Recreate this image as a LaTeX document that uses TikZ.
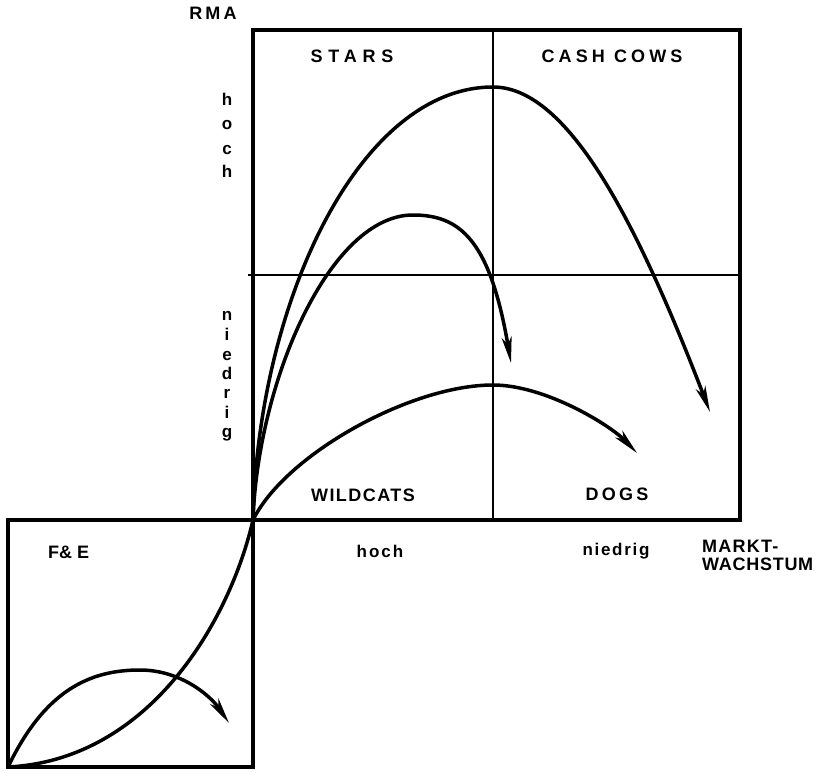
\documentclass[tikz,border=0pt]{standalone}
\usepackage{fontspec}
\setmainfont{Liberation Sans}
\usetikzlibrary{arrows.meta}
\newcommand\caplbl[1]{\fontsize{18}{21}\selectfont\bfseries\addfontfeatures{LetterSpace=#1}}
\newcommand\lowlbl[1]{\fontsize{17}{20}\selectfont\bfseries\addfontfeatures{LetterSpace=#1}}
\tikzset{
  frame/.style={line width=4.5pt},
  gridline/.style={line width=1.6pt},
  curve/.style={line width=3.5pt},
  arr/.style={curve,-{Stealth[length=26pt,width=10pt,inset=7pt]}},
  lbl/.style={inner sep=0pt,anchor=base},
}
\begin{document}
\begin{tikzpicture}[x=1pt,y=-1pt]
\useasboundingbox (0,0) rectangle (822,773);
% grid lines
\coordinate (VT) at (493,30);
\coordinate (VB) at (493,520);
\coordinate (HL) at (248,275);
\coordinate (HR) at (738,275);
\draw[gridline] (VT) -- (VB);
\draw[gridline] (HL) -- (HR);
% frames
\draw[frame] (253,30) rectangle (740,520);
\draw[frame] (8,520) rectangle (253,767);
% key points
\coordinate (O) at (253,520);
\coordinate (F) at (8,767);
\coordinate (P1) at (493,87);
\coordinate (T1) at (710,412);
\coordinate (P2) at (413,215);
\coordinate (T2) at (511,363);
\coordinate (P3) at (493,385);
\coordinate (T3) at (637,453);
\coordinate (P5) at (140,670);
\coordinate (T5) at (229,723);
% curves
\draw[arr] (O) .. controls (258,300) and (360,87) .. (P1) .. controls (570,87) and (640,230) .. (T1);
\draw[arr] (O) .. controls (258,380) and (330,215) .. (P2) .. controls (460,215) and (490,240) .. (T2);
\draw[arr] (O) .. controls (285,455) and (410,385) .. (P3) .. controls (545,385) and (610,425) .. (T3);
\draw[curve] (F) .. controls (150,760) and (230,620) .. (O);
\draw[arr] (F) .. controls (45,690) and (90,670) .. (P5) .. controls (180,670) and (210,695) .. (T5);
% labels
\node[lbl,font=\caplbl{17}] (rma) at (213,20) {RMA};
\node[lbl,font=\caplbl{32}] (stars) at (352,63) {STARS};
\node[lbl,font=\caplbl{23}] (cash) at (612,63) {CASH COWS};
\node[lbl,font=\caplbl{8}] (wild) at (363,501) {WILDCATS};
\node[lbl,font=\caplbl{18}] (dogs) at (617,500) {DOGS};
\node[lbl,font=\caplbl{0},anchor=base west] (fe) at (48,558) {F\& E};
\node[lbl,font=\caplbl{7},anchor=base west] (markt) at (702,552) {MARKT-};
\node[lbl,font=\caplbl{4},anchor=base west] (wachs) at (702,570) {WACHSTUM};
\node[lbl,font=\lowlbl{12}] (xhoch) at (380,557) {hoch};
\node[lbl,font=\lowlbl{10}] (xnied) at (616,555) {niedrig};
% vertical labels
\foreach \ch/\yy [count=\i] in {h/106,o/130,c/154,h/178}
  \node[lbl,font=\lowlbl{0}] (yh\i) at (227,\yy) {\ch};
\foreach \ch/\yy [count=\i] in {n/320,i/340,e/360,d/379,r/398,i/418,g/437}
  \node[lbl,font=\lowlbl{0}] (yn\i) at (227,\yy) {\ch};
\end{tikzpicture}
\end{document}
